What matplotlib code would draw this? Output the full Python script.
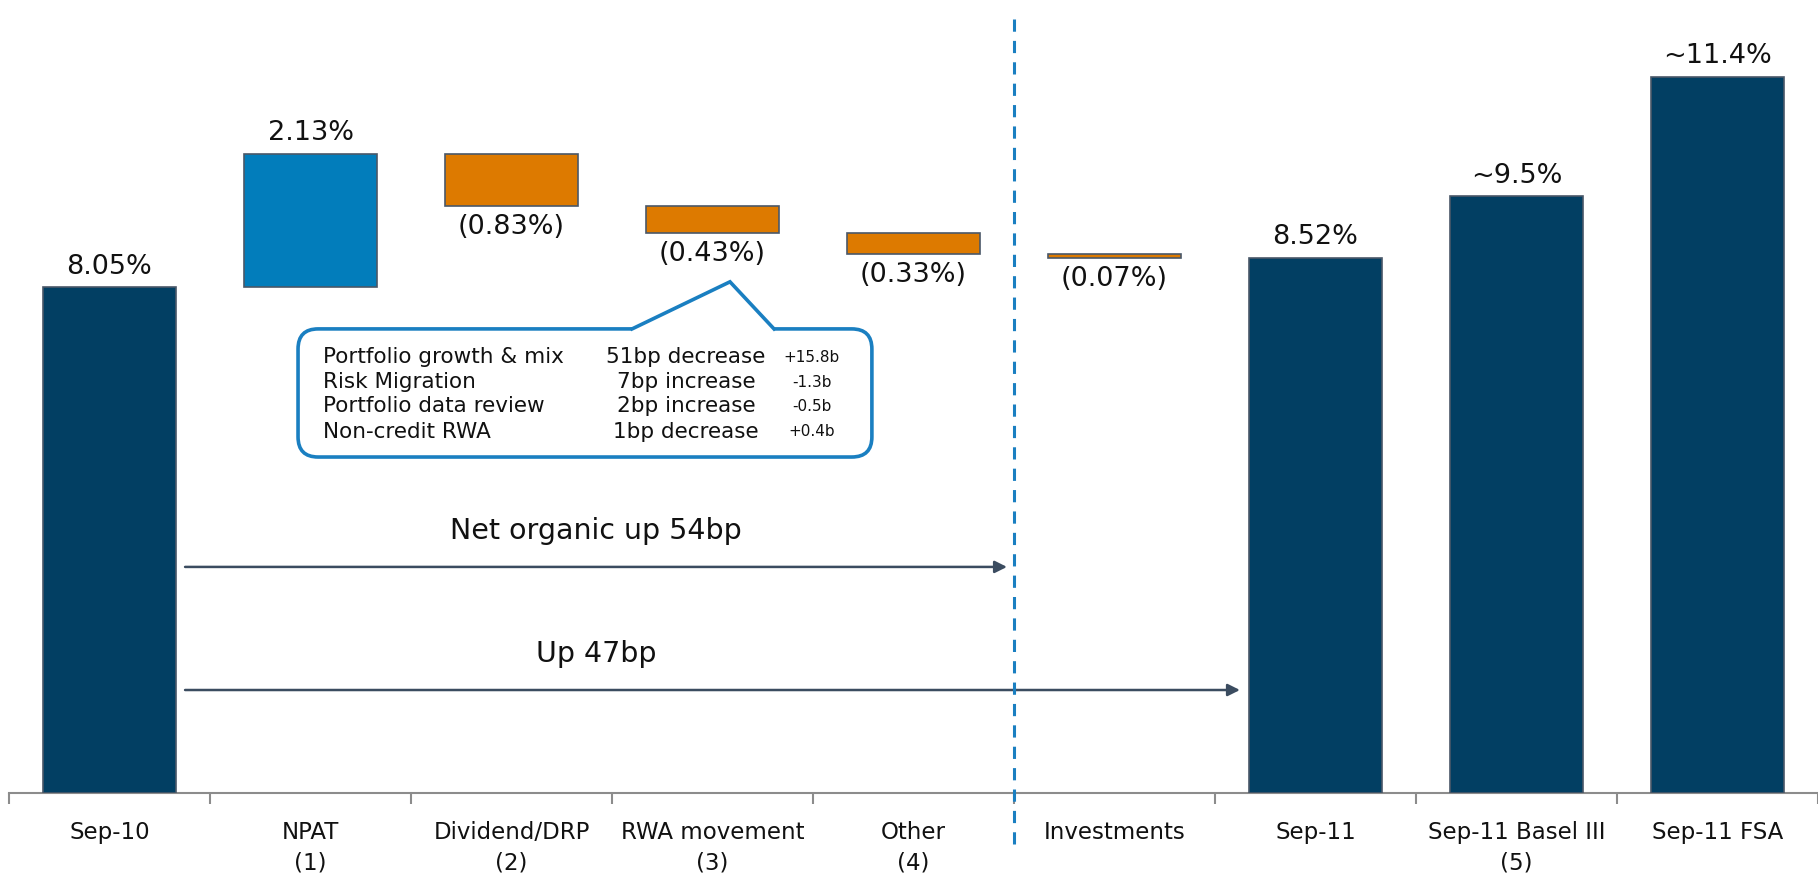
import matplotlib
matplotlib.use("Agg")
import matplotlib.pyplot as plt
from matplotlib.patches import FancyBboxPatch

# data
categories = ["Sep-10", "NPAT\n(1)", "Dividend/DRP\n(2)", "RWA movement\n(3)", "Other\n(4)",
              "Investments", "Sep-11", "Sep-11 Basel III\n(5)", "Sep-11 FSA"]
values = [8.05, 2.13, -0.83, -0.43, -0.33, -0.07, 8.52, 9.5, 11.4]
kinds = ["total", "step", "step", "step", "step", "step", "total", "total", "total"]
value_labels = ["8.05%", "2.13%", "(0.83%)", "(0.43%)", "(0.33%)", "(0.07%)",
                "8.52%", "~9.5%", "~11.4%"]

callout_items = ["Portfolio growth & mix", "Risk Migration", "Portfolio data review", "Non-credit RWA"]
callout_bp = ["51bp decrease", "7bp increase", "2bp increase", "1bp decrease"]
callout_rwa = ["+15.8b", "-1.3b", "-0.5b", "+0.4b"]

navy = "#023f63"
blue = "#027dbb"
orange = "#dd7a00"
edge = "#4a5868"
arrow_col = "#3b4c60"
callout_col = "#1a7fc1"

fig = plt.figure(figsize=(18.18, 8.76), dpi=100)
ax = fig.add_axes([9 / 1818, 83 / 876, 1809 / 1818, 785 / 876])

# waterfall bottoms / heights
bottoms, heights, colors = [], [], []
running = 0.0
for v, k in zip(values, kinds):
    if k == "total":
        bottoms.append(0)
        heights.append(v)
        colors.append(navy)
        running = v
    else:
        if v >= 0:
            bottoms.append(running)
            colors.append(blue)
        else:
            bottoms.append(running + v)
            colors.append(orange)
        heights.append(abs(v))
        running += v

x = list(range(len(categories)))
ax.bar(x, heights, bottom=bottoms, width=0.66, color=colors, edgecolor=edge, linewidth=1.2, zorder=3)

for i in x:
    if values[i] >= 0:
        ax.annotate(value_labels[i], (i, bottoms[i] + heights[i]), xytext=(0, 10),
                    textcoords="offset points", ha="center", va="baseline", fontsize=19.5, color="#111111")
    else:
        ax.annotate(value_labels[i], (i, bottoms[i]), xytext=(0, -6),
                    textcoords="offset points", ha="center", va="top", fontsize=19.5, color="#111111")

ax.set_xlim(-0.5, len(categories) - 0.5)
ax.set_ylim(0, 12.5)

for s in ["top", "right", "left"]:
    ax.spines[s].set_visible(False)
ax.spines["bottom"].set_color("#8c8c8c")
ax.spines["bottom"].set_linewidth(1.5)
ax.set_yticks([])
ax.set_xticks(x)
ax.set_xticklabels(categories, fontsize=16.5, linespacing=1.45, color="#111111")
ax.tick_params(axis="x", which="major", length=0, pad=20)
ax.set_xticks([i - 0.5 for i in range(len(categories) + 1)], minor=True)
ax.tick_params(axis="x", which="minor", length=8, width=1.5, color="#8c8c8c")

# dashed divider
ax.plot([4.5, 4.5], [-0.81, 12.43], linestyle=(0, (4, 3)), color=callout_col, lw=2.2,
        clip_on=False, zorder=4)

# arrows
ax.annotate("", xy=(4.465, 3.6), xytext=(0.376, 3.6),
            arrowprops=dict(arrowstyle="-|>", color=arrow_col, lw=1.8, mutation_scale=18, shrinkA=0, shrinkB=0))
ax.text(2.42, 4.17, "Net organic up 54bp", ha="center", va="center", fontsize=20.5, color="#111111")
ax.annotate("", xy=(5.624, 1.64), xytext=(0.376, 1.64),
            arrowprops=dict(arrowstyle="-|>", color=arrow_col, lw=1.8, mutation_scale=18, shrinkA=0, shrinkB=0))
ax.text(2.42, 2.21, "Up 47bp", ha="center", va="center", fontsize=20.5, color="#111111")

# callout box
box = FancyBboxPatch((0.938, 5.35), 3.793 - 0.938, 7.39 - 5.35,
                     boxstyle="round,pad=0,rounding_size=0.1", mutation_aspect=201 / 62.8,
                     facecolor="white", edgecolor=callout_col, lw=2.6, zorder=5)
ax.add_patch(box)
ax.plot([2.6, 3.306], [7.39, 7.39], color="white", lw=4, zorder=6, solid_capstyle="butt")
ax.plot([2.6, 3.087, 3.306], [7.39, 8.14, 7.39], color=callout_col, lw=2.6, zorder=6,
        solid_joinstyle="miter")

rows_y = [6.94, 6.54, 6.16, 5.75]
for yy, a, b, c in zip(rows_y, callout_items, callout_bp, callout_rwa):
    ax.text(1.062, yy, a, ha="left", va="center", fontsize=15.5, color="#111111", zorder=7)
    ax.text(2.868, yy, b, ha="center", va="center", fontsize=15.5, color="#111111", zorder=7)
    ax.text(3.495, yy, c, ha="center", va="center", fontsize=11, color="#111111", zorder=7)

fig.savefig("out.png", dpi=100)
